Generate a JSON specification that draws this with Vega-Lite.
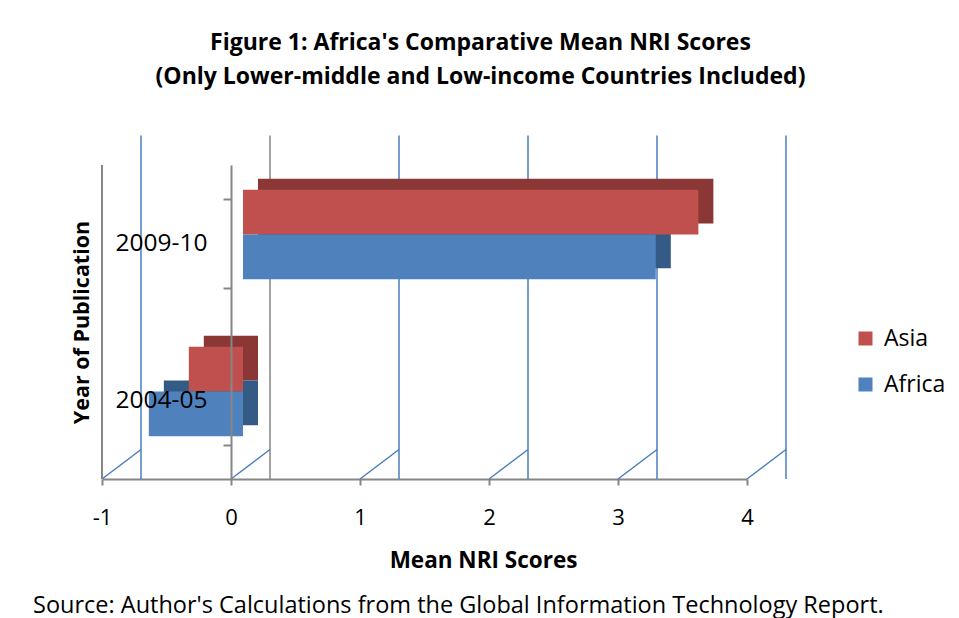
{
  "$schema": "https://vega.github.io/schema/vega-lite/v6.json",
  "padding": {"left": 33, "top": 31, "right": 5, "bottom": 5},
  "background": "white",
  "config": {
    "font": "Open Sans",
    "view": {"stroke": null},
    "axisX": {
      "domainColor": "#868686", "domainWidth": 2, "tickColor": "#868686", "tickWidth": 2, "tickSize": 6,
      "labelFontSize": 22, "labelColor": "#000", "labelPadding": 22, "labelFlush": false, "grid": false,
      "labelExpr": "'' + datum.value",
      "titleFontSize": 22.5, "titleFontWeight": "bold", "titleColor": "#000",
      "titleX": 381, "titleY": 81, "titleBaseline": "middle", "titleAlign": "center", "zindex": 1
    },
    "axisY": {
      "offset": -129, "domainColor": "#868686", "domainWidth": 2, "tickColor": "#868686", "tickWidth": 2, "tickSize": 8,
      "tickBand": "extent", "labelFontSize": 24.5, "labelColor": "#000", "labelPadding": 16, "grid": false,
      "titleFontSize": 21.5, "titleFontWeight": "bold", "titleColor": "#000",
      "titleX": -149, "titleY": 157, "titleAngle": -90, "titleBaseline": "middle", "titleAlign": "center", "zindex": 1
    },
    "legend": {"labelFontSize": 23, "labelColor": "#000", "symbolType": "square", "symbolSize": 196, "symbolStrokeWidth": 0, "rowPadding": 22, "labelOffset": 7}
  },
  "title": {
    "text": ["Figure 1:  Africa's Comparative Mean NRI Scores", "(Only Lower-middle and Low-income Countries Included)"],
    "fontSize": 23, "fontWeight": "bold", "lineHeight": 34, "color": "#000", "anchor": "middle", "offset": 46, "dx": -9
  },
  "datasets": {
    "scores": [
      {"year": "2009-10", "region": "Asia", "score": 3.53},
      {"year": "2009-10", "region": "Africa", "score": 3.2},
      {"year": "2004-05", "region": "Asia", "score": -0.42},
      {"year": "2004-05", "region": "Africa", "score": -0.73}
    ],
    "grid": [{"v": -1}, {"v": 0}, {"v": 1}, {"v": 2}, {"v": 3}, {"v": 4}]
  },
  "vconcat": [
    {
      "width": 645,
      "height": 314,
      "title": {
        "text": "Source: Author's Calculations from the Global Information Technology Report.",
        "orient": "bottom", "anchor": "start", "frame": "group", "dx": -69, "offset": 22,
        "fontSize": 23.5, "fontWeight": "normal", "color": "#000"
      },
      "resolve": {"scale": {"color": "independent", "yOffset": "independent"}},
      "layer": [
        {
          "data": {"name": "grid"},
          "mark": {"type": "rule", "xOffset": 39, "x2Offset": 39, "yOffset": -29.5, "y2Offset": -29.5, "strokeWidth": 1.5},
          "encoding": {
            "x": {"field": "v", "type": "quantitative", "scale": {"domain": [-1, 4], "nice": false, "zero": false}, "title": "Mean NRI Scores", "axis": {"values": [-1, 0, 1, 2, 3, 4]}},
            "color": {"condition": {"test": "datum.v === 0", "value": "#868686"}, "value": "#4a7ebb"}
          }
        },
        {
          "data": {"name": "grid"},
          "mark": {"type": "rule", "x2Offset": 39, "y2Offset": -29.5, "strokeWidth": 1.5, "color": "#4a7ebb"},
          "encoding": {
            "x": {"field": "v", "type": "quantitative", "scale": {"domain": [-1, 4], "nice": false, "zero": false}, "title": "Mean NRI Scores", "axis": {"values": [-1, 0, 1, 2, 3, 4]}},
            "x2": {"field": "v"},
            "y": {"value": "height"},
            "y2": {"value": "height"}
          }
        },
        {
          "data": {"values": [{"v": -1}]},
          "mark": {"type": "rule", "strokeWidth": 2, "color": "#868686"},
          "encoding": {
            "x": {"field": "v", "type": "quantitative", "scale": {"domain": [-1, 4], "nice": false, "zero": false}, "title": "Mean NRI Scores", "axis": {"values": [-1, 0, 1, 2, 3, 4]}}
          }
        },
        {
          "data": {"name": "scores"},
          "mark": {"type": "bar", "xOffset": 27, "x2Offset": 27},
          "encoding": {
            "y": {"field": "year", "type": "nominal", "sort": ["2009-10", "2004-05"], "scale": {"paddingInner": 0.43, "paddingOuter": 0.215}, "title": "Year of Publication", "axis": {"zindex": 1}},
            "yOffset": {"field": "region", "type": "nominal", "sort": ["Asia", "Africa"], "scale": {"paddingInner": 0, "paddingOuter": 0, "range": [-20, 69.5]}},
            "x": {"field": "score", "type": "quantitative", "stack": null, "scale": {"domain": [-1, 4], "nice": false, "zero": false}, "title": "Mean NRI Scores", "axis": {"values": [-1, 0, 1, 2, 3, 4]}},
            "x2": {"datum": 0},
            "color": {"field": "region", "type": "nominal", "scale": {"domain": ["Asia", "Africa"], "range": ["#8a3735", "#345a86"]}, "legend": null}
          }
        },
        {
          "data": {"name": "scores"},
          "mark": {"type": "bar", "xOffset": 12, "x2Offset": 12},
          "encoding": {
            "y": {"field": "year", "type": "nominal", "sort": ["2009-10", "2004-05"], "scale": {"paddingInner": 0.43, "paddingOuter": 0.215}, "title": "Year of Publication", "axis": {"zindex": 1}},
            "yOffset": {"field": "region", "type": "nominal", "sort": ["Asia", "Africa"], "scale": {"paddingInner": 0, "paddingOuter": 0, "range": [-9, 80.5]}},
            "x": {"field": "score", "type": "quantitative", "stack": null, "scale": {"domain": [-1, 4], "nice": false, "zero": false}, "title": "Mean NRI Scores", "axis": {"values": [-1, 0, 1, 2, 3, 4]}},
            "x2": {"datum": 0},
            "color": {"field": "region", "type": "nominal", "scale": {"domain": ["Asia", "Africa"], "range": ["#c0504d", "#4f81bd"]}, "legend": {"title": null, "orient": "none", "legendX": 752, "legendY": 162}}
          }
        }
      ]
    }
  ]
}
